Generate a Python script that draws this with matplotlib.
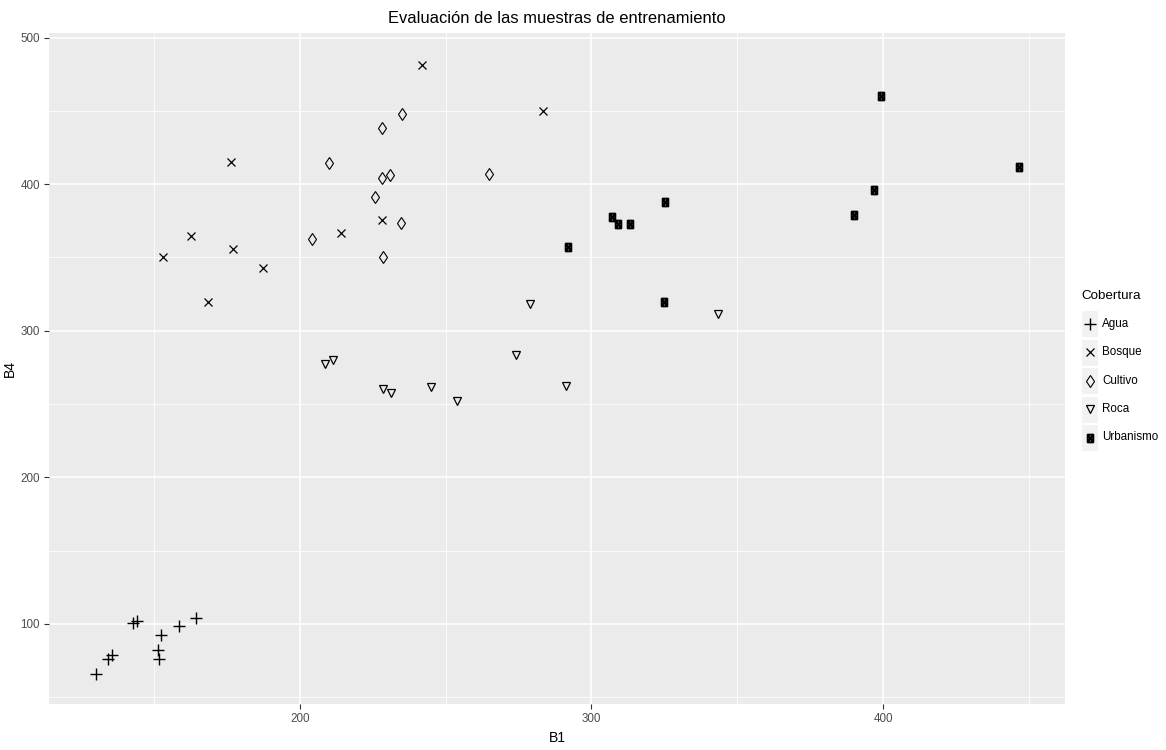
import matplotlib
matplotlib.use("Agg")
import matplotlib.pyplot as plt
from matplotlib import font_manager
from matplotlib.path import Path
from matplotlib.patches import Rectangle
import numpy as np

# ---------------- data ----------------
categories = ["Agua", "Bosque", "Cultivo", "Roca", "Urbanismo"]

agua_b1 = [130.2, 134.2, 135.6, 143.0, 144.2, 151.5, 151.9, 152.5, 158.5, 164.4]
agua_b4 = [65.8, 76.0, 78.7, 100.4, 102.2, 82.2, 76.0, 92.4, 98.5, 103.8]

bosque_b1 = [241.8, 283.4, 176.6, 228.3, 162.6, 214.3, 177.0, 153.0, 187.4, 168.5]
bosque_b4 = [481.3, 450.0, 415.0, 375.6, 364.9, 366.5, 355.6, 350.3, 342.6, 319.4]

cultivo_b1 = [235.2, 228.1, 209.9, 230.8, 228.2, 264.9, 225.8, 234.7, 204.4, 228.7]
cultivo_b4 = [447.9, 438.1, 414.5, 406.5, 404.4, 407.2, 391.3, 373.5, 362.6, 350.3]

roca_b1 = [208.7, 211.3, 228.7, 231.2, 245.0, 254.0, 274.0, 278.8, 291.2, 343.5]
roca_b4 = [277.3, 280.0, 260.2, 257.3, 261.6, 252.1, 283.6, 318.3, 262.3, 311.2]

urb_b1 = [399.4, 446.7, 396.7, 389.9, 325.2, 307.1, 309.1, 313.2, 324.9, 292.1]
urb_b4 = [460.2, 411.9, 396.0, 378.8, 387.6, 377.6, 373.0, 373.0, 319.8, 357.4]

x_ticks = [200, 300, 400]
y_ticks = [100, 200, 300, 400, 500]

title = "Evaluación de las muestras de entrenamiento"
xlabel = "B1"
ylabel = "B4"
legend_title = "Cobertura"

# ---------------- fonts ----------------
names = {f.name for f in font_manager.fontManager.ttflist}
if "Liberation Sans Narrow" in names:
    fam = "Liberation Sans Narrow"
    narrow = True
else:
    fam = "Liberation Sans"
    narrow = False
plt.rcParams["font.family"] = [fam, "DejaVu Sans"]
k = 1.0 if narrow else 0.88

# square with X marker (ggplot shape 7)
w = 0.72
sq_verts = [(-w / 2, -0.5), (w / 2, -0.5), (w / 2, 0.5), (-w / 2, 0.5), (-w / 2, -0.5),
            (-w / 2, -0.5), (w / 2, 0.5), (-w / 2, 0.5), (w / 2, -0.5)]
sq_codes = [Path.MOVETO, Path.LINETO, Path.LINETO, Path.LINETO, Path.CLOSEPOLY,
            Path.MOVETO, Path.LINETO, Path.MOVETO, Path.LINETO]
sqx = Path(sq_verts, sq_codes)

styles = {
    "Agua": dict(marker="+", ms=8, mew=1.0),
    "Bosque": dict(marker="x", ms=5.5, mew=0.9),
    "Cultivo": dict(marker="d", ms=6.5, mew=0.8),
    "Roca": dict(marker="v", ms=6, mew=0.9),
    "Urbanismo": dict(marker=sqx, ms=5.5, mew=1.5),
}
series = {
    "Agua": (agua_b1, agua_b4),
    "Bosque": (bosque_b1, bosque_b4),
    "Cultivo": (cultivo_b1, cultivo_b4),
    "Roca": (roca_b1, roca_b4),
    "Urbanismo": (urb_b1, urb_b4),
}

W, H = 1166, 750
fig = plt.figure(figsize=(W / 100, H / 100), dpi=100)
L, R, T, B = 49, 1065, 33, 704
ax = fig.add_axes([L / W, 1 - B / H, (R - L) / W, (B - T) / H])
ax.set_facecolor("#EBEBEB")
for s in ax.spines.values():
    s.set_visible(False)

ax.set_xlim(114.1, 462.3)
ax.set_ylim(45.3, 503.2)
ax.set_xticks(x_ticks)
ax.set_yticks(y_ticks)
ax.set_xticks([150, 250, 350, 450], minor=True)
ax.set_yticks([50, 150, 250, 350, 450], minor=True)
ax.grid(True, which="major", color="white", lw=1.1)
ax.grid(True, which="minor", color="white", lw=0.55)
ax.set_axisbelow(True)
ax.tick_params(which="major", length=3.5, width=0.8, color="#333333",
               labelsize=9.5 * k, labelcolor="#4D4D4D", pad=3)
ax.tick_params(which="minor", length=0)

for c in categories:
    xs, ys = series[c]
    st = styles[c]
    ax.plot(xs, ys, ls="none", marker=st["marker"], ms=st["ms"], mew=st["mew"],
            mfc="none", mec="black", color="black")

ax.set_title(title, fontsize=13.5 * k, pad=7)
ax.set_xlabel(xlabel, fontsize=11.5 * k, labelpad=4)
ax.set_ylabel(ylabel, fontsize=11.5 * k)
ax.yaxis.set_label_coords((17 - L) / (R - L), 0.5)

# ---------------- legend (pixel coordinates) ----------------
lax = fig.add_axes([0, 0, 1, 1], facecolor="none")
lax.set_xlim(0, W)
lax.set_ylim(H, 0)
lax.axis("off")
lax.text(1081, 296, legend_title, fontsize=11 * k, va="center", ha="left")
row0, dy = 323.5, 28.5
for i, c in enumerate(categories):
    yc = row0 + i * dy
    lax.add_patch(Rectangle((1081, yc - 13.5), 17, 27, facecolor="#F2F2F2",
                            edgecolor="white", lw=0.8))
    st = styles[c]
    lax.plot([1089.5], [yc], ls="none", marker=st["marker"], ms=st["ms"],
             mew=st["mew"], mfc="none", mec="black")
    lax.text(1102, yc, c, fontsize=9.5 * k, va="center", ha="left")

fig.savefig("out.png", dpi=100)
